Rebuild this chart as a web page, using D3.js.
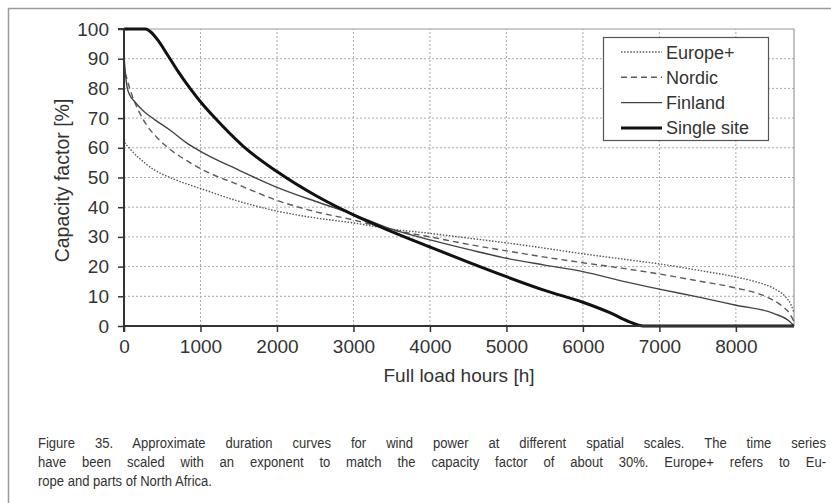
<!DOCTYPE html>
<html>
<head>
<meta charset="utf-8">
<script src="https://cdn.jsdelivr.net/npm/d3@7"></script>
<style>
  html, body { margin: 0; padding: 0; background: #fff; }
  svg { display: block; font-family: "Liberation Sans", Arial, sans-serif; }
</style>
</head>
<body>
<svg id="chart" width="831" height="503"></svg>
<script>
// ---- data ----
const xTicks = [0, 1000, 2000, 3000, 4000, 5000, 6000, 7000, 8000];
const yTicks = [0, 10, 20, 30, 40, 50, 60, 70, 80, 90, 100];

const europeHours = [0, 5, 15, 50, 100, 200, 400, 600, 800, 1000, 1500, 2000, 2500, 3000, 3500, 4000, 4500, 5000, 5500, 6000, 6500, 7000, 7500, 8000, 8300, 8500, 8650, 8720, 8760];
const europeValues = [66, 63, 61.5, 60.5, 59, 56.5, 52.5, 50, 48, 46.3, 42, 38.7, 36.4, 34.7, 32.6, 31.2, 29.6, 28, 26.2, 24.3, 22.6, 20.9, 18.8, 16.5, 14.6, 12.6, 9.8, 7.2, 4.5];

const nordicHours = [0, 10, 30, 100, 200, 300, 430, 600, 800, 1000, 1500, 2000, 2500, 3000, 3500, 4000, 4500, 5000, 5500, 6000, 6500, 7000, 7500, 8000, 8400, 8600, 8700, 8760];
const nordicValues = [88.5, 86, 84, 78, 72, 67.5, 63.5, 59.5, 56, 53, 47.5, 42.3, 38.5, 35.7, 32.4, 30, 27.5, 25.3, 23.2, 21.3, 19.5, 17.5, 15.2, 12.8, 9.8, 6.8, 4.3, 1.5];

const finlandHours = [0, 15, 40, 80, 140, 250, 400, 600, 800, 1000, 1500, 2000, 2500, 3000, 3500, 4000, 4500, 5000, 5500, 6000, 6500, 7000, 7500, 8000, 8500, 8700, 8760];
const finlandValues = [91, 86, 80.5, 77.5, 75.5, 72.5, 69.5, 66, 62, 58.8, 52.5, 46.7, 42, 37.6, 32.6, 29, 25.8, 22.8, 20.5, 18.3, 15.2, 12.4, 9.8, 7, 4.2, 1.6, 0];

const singleHours = [0, 280, 350, 450, 576, 700, 864, 1000, 1190, 1560, 2000, 2500, 3000, 3500, 4000, 4500, 5000, 5500, 6000, 6360, 6600, 6790, 8760];
const singleValues = [100, 100, 99, 96, 91, 86, 80, 75.5, 70, 60.5, 52, 44, 37.4, 31.8, 26.6, 21.5, 16.6, 12, 8, 4.4, 1.5, 0, 0];

const seriesNames = ["Europe+", "Nordic", "Finland", "Single site"];

const captionLines = [
  "Figure 35. Approximate duration curves for wind power at different spatial scales. The time series",
  "have been scaled with an exponent to match the capacity factor of about 30%. Europe+ refers to Eu-",
  "rope and parts of North Africa."
];

// ---- styles ----
const styles = {
  "Europe+":     { stroke: "#555", width: 1.4, dash: "1.5,1.6" },
  "Nordic":      { stroke: "#5a5a5a", width: 1.4, dash: "6,4" },
  "Finland":     { stroke: "#444", width: 1.4, dash: null },
  "Single site": { stroke: "#111", width: 3, dash: null }
};

const series = [
  { name: seriesNames[0], pts: europeHours.map((h, i) => [h, europeValues[i]]) },
  { name: seriesNames[1], pts: nordicHours.map((h, i) => [h, nordicValues[i]]) },
  { name: seriesNames[2], pts: finlandHours.map((h, i) => [h, finlandValues[i]]) },
  { name: seriesNames[3], pts: singleHours.map((h, i) => [h, singleValues[i]]) }
];

const svg = d3.select("#chart");
const x = d3.scaleLinear().domain([0, 8760]).range([124, 794]);
const y = d3.scaleLinear().domain([0, 100]).range([326, 29]);

// figure frame (top and left lines)
svg.append("path").attr("d", "M8.5,503 L8.5,8.5 L831,8.5")
  .attr("fill", "none").attr("stroke", "#9a9a9a").attr("stroke-width", 1.5);

// grid
const grid = svg.append("g");
grid.selectAll("line.v").data(xTicks.filter(d => d > 0)).join("line")
  .attr("x1", d => x(d)).attr("x2", d => x(d)).attr("y1", y(0)).attr("y2", y(100))
  .attr("stroke", "#a8a8a8").attr("stroke-width", 1).attr("stroke-dasharray", "2,2");
grid.selectAll("line.h").data(yTicks.filter(d => d > 0 && d < 100)).join("line")
  .attr("x1", x(0)).attr("x2", x(8760)).attr("y1", d => y(d)).attr("y2", d => y(d))
  .attr("stroke", "#a8a8a8").attr("stroke-width", 1).attr("stroke-dasharray", "2,2");
// plot frame top/right
svg.append("path")
  .attr("d", `M${x(0)},${y(100)} L${x(8760)},${y(100)} L${x(8760)},${y(0)}`)
  .attr("fill", "none").attr("stroke", "#9a9a9a").attr("stroke-width", 1.2);

// curves
const line = d3.line().x(d => x(d[0])).y(d => y(d[1])).curve(d3.curveMonotoneX);
svg.append("g").selectAll("path").data(series).join("path")
  .attr("d", d => line(d.pts))
  .attr("fill", "none")
  .attr("stroke", d => styles[d.name].stroke)
  .attr("stroke-width", d => styles[d.name].width)
  .attr("stroke-dasharray", d => styles[d.name].dash)
  .attr("stroke-linejoin", "round");

// axes
const xAxis = svg.append("g").attr("transform", `translate(0,${y(0)})`)
  .call(d3.axisBottom(x).tickValues(xTicks).tickSize(6).tickPadding(8).tickFormat(d3.format("d")));
const yAxis = svg.append("g").attr("transform", `translate(${x(0)},0)`)
  .call(d3.axisLeft(y).tickValues(yTicks).tickSize(6).tickPadding(9).tickFormat(d3.format("d")));
[xAxis, yAxis].forEach(a => {
  a.select(".domain").attr("stroke", "#333").attr("stroke-width", 2);
  a.selectAll(".tick line").attr("stroke", "#333").attr("stroke-width", 1.5);
  a.selectAll(".tick text").attr("fill", "#333").attr("font-size", 19)
    .attr("font-family", "'Liberation Sans', Arial, sans-serif");
});
xAxis.select(".domain").attr("d", `M${x(0)},6V0H${x(8760)}`);
yAxis.select(".domain").attr("d", `M-6,${y(100)}H0V${y(0)}`);

// axis titles
svg.append("text").attr("x", (x(0) + x(8760)) / 2).attr("y", 382)
  .attr("text-anchor", "middle").attr("font-size", 19).attr("fill", "#333")
  .text("Full load hours [h]");
svg.append("text").attr("transform", `translate(69,${(y(0) + y(100)) / 2 + 3}) rotate(-90)`)
  .attr("text-anchor", "middle").attr("font-size", 19.5).attr("fill", "#333")
  .text("Capacity factor [%]");

// legend
const lg = svg.append("g");
lg.append("rect").attr("x", 603.5).attr("y", 37.5).attr("width", 165).attr("height", 103)
  .attr("fill", "#fff").attr("stroke", "#555").attr("stroke-width", 1.2);
const rows = lg.selectAll("g.row").data(seriesNames).join("g")
  .attr("transform", (d, i) => `translate(0,${52 + i * 25.3})`);
rows.append("line").attr("x1", 621).attr("x2", 662).attr("y1", 0).attr("y2", 0)
  .attr("stroke", d => styles[d].stroke).attr("stroke-width", d => styles[d].width)
  .attr("stroke-dasharray", d => styles[d].dash);
rows.append("text").attr("x", 666).attr("y", 6.5).attr("font-size", 18).attr("fill", "#333")
  .text(d => d);

// caption (justified, slightly condensed font)
const capLeft = 38, capRight = 826, capScale = 0.9;
captionLines.forEach((t, i) => {
  const el = svg.append("text")
    .attr("transform", `translate(${capLeft},${448 + i * 19}) scale(${capScale},1)`)
    .attr("x", 0).attr("y", 0)
    .attr("font-size", 14.5).attr("fill", "#333").text(t);
  if (i < captionLines.length - 1) {
    const w = el.node().getComputedTextLength();
    const spaces = (t.match(/ /g) || []).length;
    el.attr("word-spacing", ((capRight - capLeft) / capScale - w) / spaces);
  }
});
</script>
</body>
</html>
